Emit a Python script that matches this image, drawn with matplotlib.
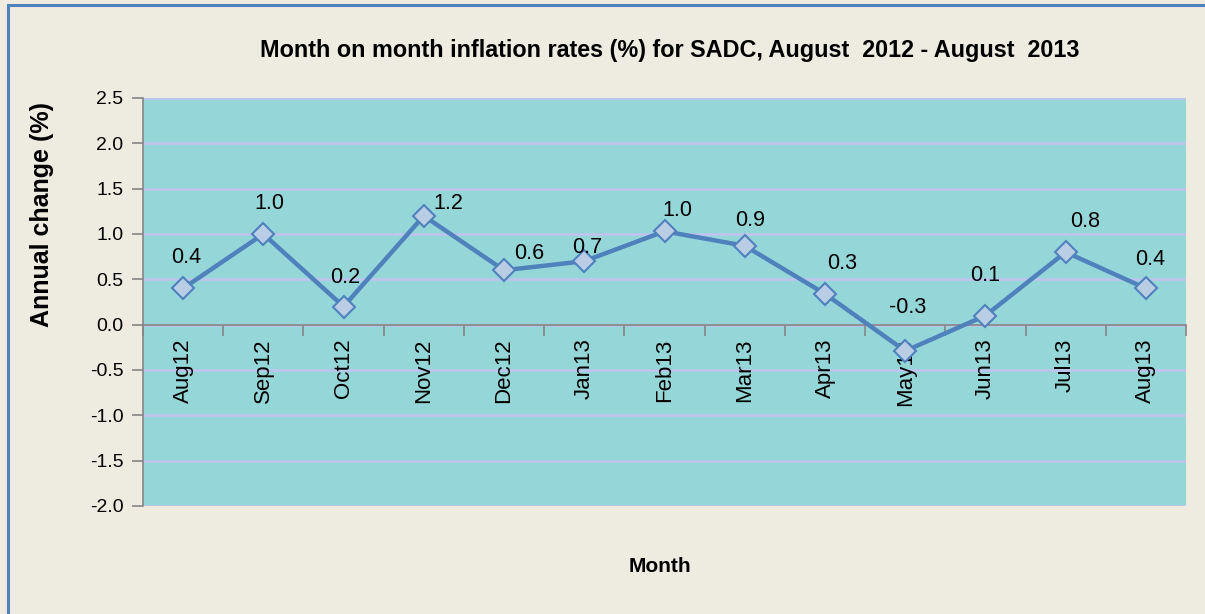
import matplotlib.pyplot as plt
from matplotlib.patches import Rectangle
from matplotlib.ticker import FixedLocator

plt.rcParams['font.family'] = ['Liberation Sans Narrow', 'Liberation Sans', 'DejaVu Sans']

months = ['Aug12', 'Sep12', 'Oct12', 'Nov12', 'Dec12', 'Jan13', 'Feb13',
          'Mar13', 'Apr13', 'May13', 'Jun13', 'Jul13', 'Aug13']
rates = [0.4, 1.0, 0.2, 1.2, 0.6, 0.7, 1.03, 0.87, 0.34, -0.29, 0.1, 0.8, 0.4]
yticks = [-2.0, -1.5, -1.0, -0.5, 0.0, 0.5, 1.0, 1.5, 2.0, 2.5]

# label offsets in points (dx, dy), roughly where excel put them
label_off = [(2, 22), (4, 22), (1, 21), (18, 9), (18, 12), (2, 10), (9, 15),
             (4, 18), (12, 22), (2, 31), (0, 29), (14, 22), (3, 21)]

fig = plt.figure(figsize=(12.05, 6.14), dpi=100)
fig.patch.set_facecolor('#eeebe1')
fig.patches.append(Rectangle((8 / 1205, -0.05), 1.1, 1.05 - 5 / 614,
                             transform=fig.transFigure, fill=False,
                             edgecolor='#4f81bd', linewidth=2.2))

ax = fig.add_axes([143 / 1205, 1 - 506 / 614, 1043 / 1205, 408 / 614])
ax.set_facecolor('#95d7d9')

# gridlines by hand so the rotated month labels sit on top of them
for t in yticks:
    ax.axhline(t, color='#bcc5ec', linewidth=2, zorder=1)

x = list(range(len(months)))
ax.plot(x, rates, color='#4f81bd', linewidth=3.2, marker='D', markersize=11,
        markerfacecolor='#b9cde5', markeredgecolor='#4f81bd', markeredgewidth=1.5,
        zorder=5)

for i, v in enumerate(rates):
    ax.annotate(f'{v:.1f}', (i, v), xytext=label_off[i], textcoords='offset points',
                ha='center', va='center', fontsize=15.5, color='black', zorder=6)

ax.set_xlim(-0.5, len(months) - 0.5)
ax.set_ylim(-2.0, 2.5)
ax.set_yticks(yticks)
ax.set_yticklabels([f'{t:.1f}' for t in yticks])

ax.set_xticks(x)
ax.set_xticklabels(months)
ax.xaxis.set_minor_locator(FixedLocator([i - 0.5 for i in range(len(months) + 1)]))
ax.tick_params(axis='x', which='major', length=0, pad=10, labelrotation=90,
               labelsize=16)
ax.tick_params(axis='x', which='minor', length=8, color='#868686', width=1.2)
ax.tick_params(axis='y', length=8, color='#868686', width=1.2, pad=6, labelsize=14)

ax.spines['bottom'].set_position(('data', 0))
ax.spines['bottom'].set_color('#868686')
ax.spines['bottom'].set_linewidth(1.2)
ax.spines['left'].set_color('#868686')
ax.spines['left'].set_linewidth(1.2)
ax.spines['top'].set_visible(False)
ax.spines['right'].set_visible(False)

fig.text(670 / 1205, 1 - 50 / 614,
         'Month on month inflation rates (%) for SADC, August  2012 - August  2013',
         ha='center', va='center', fontsize=16.8, fontweight='bold')
fig.text(42 / 1205, 1 - 215 / 614, 'Annual change (%)', rotation=90,
         ha='center', va='center', fontsize=18, fontweight='bold')
fig.text(660 / 1205, 1 - 567 / 614, 'Month', ha='center', va='center',
         fontsize=15, fontweight='bold')

fig.savefig('out.png', dpi=100, facecolor=fig.get_facecolor())
